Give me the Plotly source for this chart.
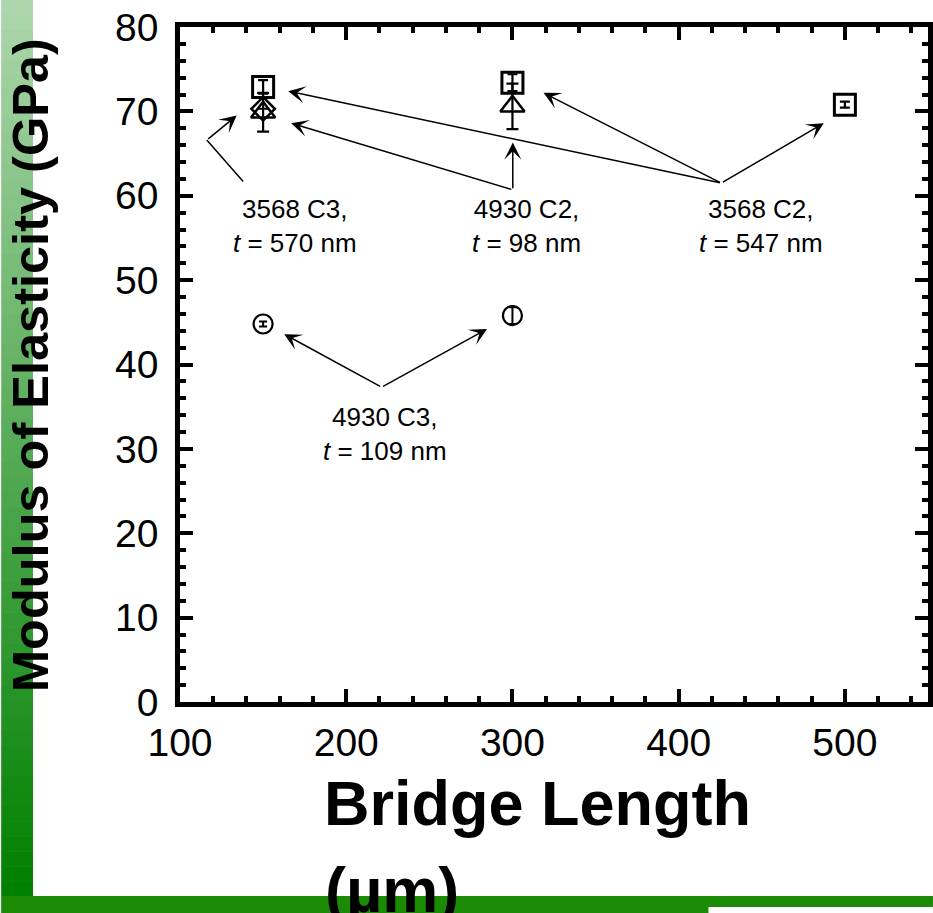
import plotly.graph_objects as go

# ---------------- data ----------------
sq_x = [150, 300, 500]            # 3568 C2, t = 547 nm
sq_y = [72.9, 73.4, 70.8]
sq_e = [0.8, 1.0, 0.35]

dia_x = [150]                     # 3568 C3, t = 570 nm
dia_y = [70.3]
dia_e = [0.0]

tri_x = [150, 300]                # 4930 C2, t = 98 nm
tri_y = [69.9, 70.6]
tri_e = [2.3, 2.7]

cir_x = [150, 300]                # 4930 C3, t = 109 nm
cir_y = [44.8, 45.8]
cir_e = [0.3, 1.0]

x_ticks = [100, 200, 300, 400, 500]
y_ticks = [0, 10, 20, 30, 40, 50, 60, 70, 80]

labels = ["3568 C3,<br><i>t</i> = 570 nm", "4930 C2,<br><i>t</i> = 98 nm",
          "3568 C2,<br><i>t</i> = 547 nm", "4930 C3,<br><i>t</i> = 109 nm"]
label_x = [169.3, 308.6, 449.6, 223.1]
label_y = [56.4, 56.4, 56.4, 31.8]

# callout hubs and arrow tips (data coordinates)
hub_x = [116.1, 300.2, 425.7, 221.3]
hub_y = [66.6, 60.7, 61.5, 37.3]
tips = [
    [(134.1, 69.5)],
    [(300.2, 66.3), (166.9, 68.6)],
    [(165.1, 72.4), (318.7, 72.2), (487.3, 68.6)],
    [(162.7, 43.6), (284.7, 44.2)],
]
# leader line from label 1 to its hub (no head)
lead_x, lead_y = 138.8, 61.5

FONT = "Arial, Liberation Sans, sans-serif"

# ---------------- layout geometry ----------------
W, H = 933, 913
L, R, T, B = 180, 933, 27, 702
def px(p):
    return (p - L) / (R - L)
def py(p):
    return (B - p) / (B - T)

fig = go.Figure()

def add(xs, ys, es, sym, size, lw, ew, cw):
    fig.add_trace(go.Scatter(
        x=xs, y=ys, mode="markers",
        marker=dict(symbol=sym, size=size, color="black", line=dict(color="black", width=lw)),
        error_y=dict(type="data", array=es, visible=True, color="black", thickness=ew, width=cw),
        showlegend=False, cliponaxis=False))

add(cir_x, cir_y, cir_e, "circle-open", 19, 2.2, 2, 4)
add(tri_x, tri_y, tri_e, "triangle-up-open", 21, 2.5, 2.2, 6)
add(dia_x, dia_y, dia_e, "diamond-open", 18, 2.5, 2, 5)
add(sq_x, sq_y, sq_e, "square-open", 21, 3, 2.2, 5)

ann = []
for t, x, y in zip(labels, label_x, label_y):
    ann.append(dict(x=x, y=y, xref="x", yref="y", text=t, showarrow=False,
                    font=dict(family=FONT, size=26, color="black"), align="center"))
for hx, hy, tl in zip(hub_x, hub_y, tips):
    for tx, ty in tl:
        ann.append(dict(x=tx, y=ty, xref="x", yref="y", ax=hx, ay=hy, axref="x", ayref="y",
                        text="", showarrow=True, arrowhead=3, arrowsize=1.9, arrowwidth=1.5,
                        arrowcolor="black", standoff=0, startstandoff=0))
ann.append(dict(x=hub_x[0], y=hub_y[0], xref="x", yref="y", ax=lead_x, ay=lead_y,
                axref="x", ayref="y", text="", showarrow=True, arrowhead=0, arrowwidth=1.5,
                arrowcolor="black", standoff=0, startstandoff=0))

# axis titles
ann.append(dict(x=px(29), y=py(365), xref="paper", yref="paper", text="<b>Modulus of Elasticity (GPa)</b>",
                textangle=-90, showarrow=False, xanchor="center", yanchor="middle",
                font=dict(family=FONT, size=50.5, color="black")))
ann.append(dict(x=px(540), y=py(803), xref="paper", yref="paper", text="<b>Bridge Length</b>",
                showarrow=False, xanchor="center", yanchor="middle",
                font=dict(family=FONT, size=63, color="black")))
ann.append(dict(x=px(324), y=py(890), xref="paper", yref="paper", text="<b>(µm)</b>",
                showarrow=False, xanchor="left", yanchor="middle",
                font=dict(family=FONT, size=63, color="black")))

# background decorations (slide template)
shapes = []
top = (172, 214, 172)
bot = (0, 128, 0)
n = 60
for i in range(n):
    f = i / (n - 1)
    c = tuple(round(top[k] + (bot[k] - top[k]) * f) for k in range(3))
    y0 = 896 * i / n
    y1 = 896 * (i + 1) / n + 0.6
    shapes.append(dict(type="rect", xref="paper", yref="paper", x0=px(0), x1=px(32),
                       y0=py(y0), y1=py(y1), fillcolor="rgb(%d,%d,%d)" % c, line=dict(width=0),
                       layer="below"))
shapes.append(dict(type="rect", xref="paper", yref="paper", x0=px(0), x1=px(W + 5), y0=py(896), y1=py(913),
                   fillcolor="#1b8b06", line=dict(width=0), layer="below"))
shapes.append(dict(type="rect", xref="paper", yref="paper", x0=px(712), x1=px(W + 5), y0=py(907), y1=py(913),
                   fillcolor="white", line=dict(width=0), layer="below"))

axis_common = dict(showline=True, linecolor="black", linewidth=4.5, mirror="ticks",
                   ticks="inside", ticklen=13, tickwidth=4, tickcolor="black",
                   showgrid=False, zeroline=False,
                   tickfont=dict(family=FONT, size=39, color="black"))

fig.update_layout(
    width=W, height=H, margin=dict(l=L, r=W - R, t=T, b=H - B),
    paper_bgcolor="white", plot_bgcolor="white",
    xaxis=dict(range=[100, 550], tickvals=x_ticks, ticktext=[str(v) for v in x_ticks],
               minor=dict(dtick=20, tick0=100, ticks="inside", ticklen=6, tickwidth=3.5, tickcolor="black", showgrid=False),
               ticklabelstandoff=2, **axis_common),
    yaxis=dict(range=[0, 80], tickvals=y_ticks, ticktext=[str(v) for v in y_ticks],
               minor=dict(dtick=2, tick0=0, ticks="inside", ticklen=6, tickwidth=3.5, tickcolor="black", showgrid=False),
               ticklabelstandoff=9, **axis_common),
    annotations=ann, shapes=shapes,
)

fig.write_html("out.html", config={"displayModeBar": False},
               post_script="document.body.style.margin='0';document.body.style.overflow='hidden';")
